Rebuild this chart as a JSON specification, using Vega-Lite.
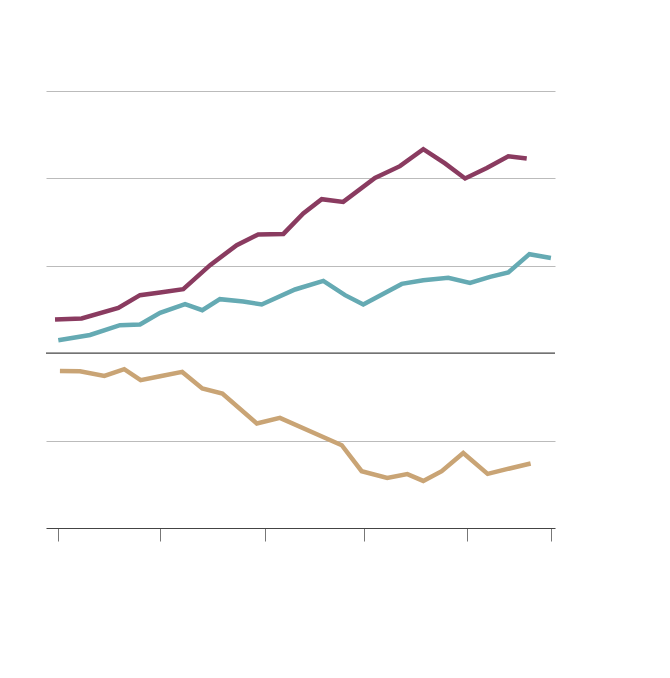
{
  "$schema": "https://vega.github.io/schema/vega-lite/v6.json",
  "width": 509,
  "height": 437,
  "autosize": "none",
  "padding": {"left": 46, "top": 91, "right": 115, "bottom": 150},
  "background": "#ffffff",
  "config": {"view": {"stroke": null}},
  "datasets": {
    "series": [
      {"year": 1989.84, "value": 0.386, "series": "A"},
      {"year": 1991.14, "value": 0.397, "series": "A"},
      {"year": 1992.93, "value": 0.518, "series": "A"},
      {"year": 1993.99, "value": 0.664, "series": "A"},
      {"year": 1994.97, "value": 0.694, "series": "A"},
      {"year": 1996.10, "value": 0.732, "series": "A"},
      {"year": 1997.41, "value": 1.007, "series": "A"},
      {"year": 1998.71, "value": 1.236, "series": "A"},
      {"year": 1999.76, "value": 1.358, "series": "A"},
      {"year": 2000.99, "value": 1.365, "series": "A"},
      {"year": 2001.96, "value": 1.598, "series": "A"},
      {"year": 2002.86, "value": 1.762, "series": "A"},
      {"year": 2003.91, "value": 1.731, "series": "A"},
      {"year": 2005.46, "value": 2.006, "series": "A"},
      {"year": 2006.68, "value": 2.140, "series": "A"},
      {"year": 2007.82, "value": 2.334, "series": "A"},
      {"year": 2008.88, "value": 2.171, "series": "A"},
      {"year": 2009.86, "value": 1.999, "series": "A"},
      {"year": 2010.92, "value": 2.120, "series": "A"},
      {"year": 2011.97, "value": 2.254, "series": "A"},
      {"year": 2012.87, "value": 2.228, "series": "A"},

      {"year": 1990.00, "value": 0.149, "series": "B"},
      {"year": 1991.55, "value": 0.209, "series": "B"},
      {"year": 1993.01, "value": 0.320, "series": "B"},
      {"year": 1993.99, "value": 0.328, "series": "B"},
      {"year": 1994.97, "value": 0.461, "series": "B"},
      {"year": 1996.19, "value": 0.561, "series": "B"},
      {"year": 1997.03, "value": 0.492, "series": "B"},
      {"year": 1997.89, "value": 0.618, "series": "B"},
      {"year": 1999.03, "value": 0.592, "series": "B"},
      {"year": 1999.93, "value": 0.557, "series": "B"},
      {"year": 2001.56, "value": 0.729, "series": "B"},
      {"year": 2002.94, "value": 0.827, "series": "B"},
      {"year": 2004.00, "value": 0.664, "series": "B"},
      {"year": 2004.89, "value": 0.557, "series": "B"},
      {"year": 2006.77, "value": 0.793, "series": "B"},
      {"year": 2007.82, "value": 0.835, "series": "B"},
      {"year": 2009.04, "value": 0.862, "series": "B"},
      {"year": 2010.10, "value": 0.804, "series": "B"},
      {"year": 2011.08, "value": 0.873, "series": "B"},
      {"year": 2011.97, "value": 0.923, "series": "B"},
      {"year": 2013.00, "value": 1.133, "series": "B"},
      {"year": 2014.05, "value": 1.090, "series": "B"},

      {"year": 1990.08, "value": -0.203, "series": "C"},
      {"year": 1991.06, "value": -0.206, "series": "C"},
      {"year": 1992.25, "value": -0.260, "series": "C"},
      {"year": 1993.22, "value": -0.183, "series": "C"},
      {"year": 1994.02, "value": -0.309, "series": "C"},
      {"year": 1994.97, "value": -0.263, "series": "C"},
      {"year": 1996.05, "value": -0.214, "series": "C"},
      {"year": 1997.03, "value": -0.404, "series": "C"},
      {"year": 1998.01, "value": -0.461, "series": "C"},
      {"year": 1999.69, "value": -0.804, "series": "C"},
      {"year": 2000.82, "value": -0.740, "series": "C"},
      {"year": 2003.84, "value": -1.053, "series": "C"},
      {"year": 2004.81, "value": -1.350, "series": "C"},
      {"year": 2006.06, "value": -1.427, "series": "C"},
      {"year": 2007.04, "value": -1.384, "series": "C"},
      {"year": 2007.82, "value": -1.461, "series": "C"},
      {"year": 2008.72, "value": -1.350, "series": "C"},
      {"year": 2009.77, "value": -1.141, "series": "C"},
      {"year": 2010.96, "value": -1.381, "series": "C"},
      {"year": 2011.89, "value": -1.327, "series": "C"},
      {"year": 2013.06, "value": -1.262, "series": "C"}
    ],
    "zero": [{"value": 0}]
  },
  "layer": [
    {
      "data": {"name": "series"},
      "mark": {"type": "line", "strokeWidth": 4.5, "strokeJoin": "miter", "strokeCap": "butt"},
      "encoding": {
        "x": {
          "field": "year",
          "type": "quantitative",
          "scale": {"domain": [1989.4, 2014.25], "nice": false, "zero": false},
          "axis": {
            "title": null,
            "labels": false,
            "grid": false,
            "values": [1990, 1994.95, 2000.1, 2004.93, 2009.95, 2014.05],
            "domainColor": "#444444",
            "domainWidth": 1.2,
            "tickColor": "#777777",
            "tickSize": 13,
            "tickWidth": 1,
            "tickOffset": 0
          }
        },
        "y": {
          "field": "value",
          "type": "quantitative",
          "scale": {"domain": [-2, 3], "nice": false, "zero": false},
          "axis": {
            "title": null,
            "labels": false,
            "ticks": false,
            "domain": false,
            "values": [-1, 1, 2, 3],
            "gridColor": "#bbbbbb",
            "gridWidth": 1,
            "gridOpacity": 1
          }
        },
        "color": {
          "field": "series",
          "type": "nominal",
          "scale": {"domain": ["A", "B", "C"], "range": ["#8a3b60", "#65aab3", "#c9a475"]},
          "legend": null
        }
      }
    },
    {
      "data": {"name": "zero"},
      "mark": {"type": "rule", "color": "#444444", "strokeWidth": 1.2},
      "encoding": {"y": {"field": "value", "type": "quantitative"}}
    }
  ]
}
